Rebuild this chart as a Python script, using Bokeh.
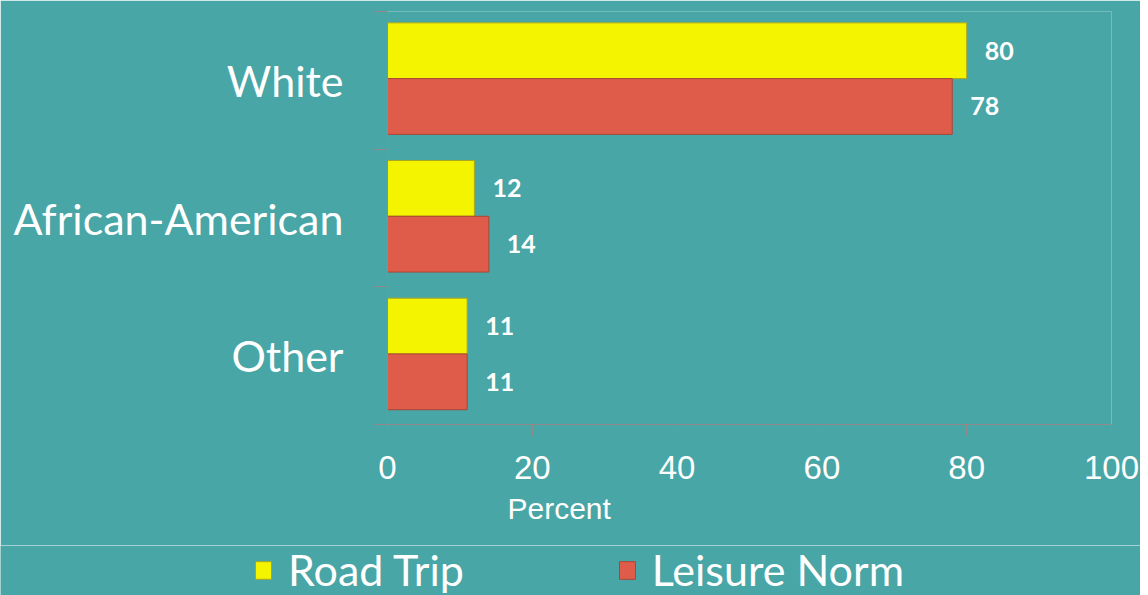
from bokeh.plotting import figure
from bokeh.models import (Range1d, FixedTicker, Legend, LegendItem, Title,
                          ColumnDataSource)
from bokeh.core.properties import value
from bokeh.embed import file_html
from bokeh.resources import INLINE

# ---- data ----
categories = ["Other", "African-American", "White"]   # bottom -> top
road_trip = [11, 12, 80]
leisure_norm = [11, 14, 78]
x_ticks = [0, 20, 40, 60, 80, 100]
series_names = ["Road Trip", "Leisure Norm"]

BG = "#48A6A6"
YELLOW = "#F4F400"
RED = "#E05C4A"
AXIS = "#928a8a"
YEDGE = "#a8a820"
REDGE = "#a94535"

pos = [i + 0.5 for i in range(len(categories))]

src_rt = ColumnDataSource(dict(y=[c + 0.215 for c in pos], v=road_trip,
                               t=[str(v) for v in road_trip]))
src_ln = ColumnDataSource(dict(y=[c - 0.19 for c in pos], v=leisure_norm,
                               t=[str(v) for v in leisure_norm]))

p = figure(frame_width=724, frame_height=413, output_backend="svg",
           toolbar_location=None,
           x_range=Range1d(0, 100), y_range=Range1d(0, 3),
           min_border_left=387, min_border_right=29, min_border_top=11,
           min_border_bottom=121)
p.background_fill_color = BG
p.border_fill_color = BG
p.outline_line_color = None
p.grid.visible = False

r1 = p.hbar(y="y", right="v", left=0, height=0.405, source=src_rt,
            fill_color=YELLOW, line_color=YEDGE, line_width=1)
r2 = p.hbar(y="y", right="v", left=0, height=0.405, source=src_ln,
            fill_color=RED, line_color=REDGE, line_width=1)

for src in (src_rt, src_ln):
    p.text(x="v", y="y", text="t", source=src, x_offset=18,
           text_align="left", text_baseline="middle",
           text_font=value("Lato"), text_font_style="bold",
           text_font_size="25px", text_color="white")

# y axis
ya = p.yaxis[0]
ya.ticker = FixedTicker(ticks=pos, minor_ticks=[0, 1, 2, 3])
ya.major_label_overrides = {pv: c for pv, c in zip(pos, categories)}
ya.major_tick_out = 0
ya.major_tick_in = 0
ya.minor_tick_out = 14
ya.minor_tick_in = 0
ya.minor_tick_line_color = AXIS
ya.axis_line_color = AXIS
ya.major_label_standoff = 30
ya.major_label_text_font = "Lato"
ya.major_label_text_font_size = "43px"
ya.major_label_text_color = "white"

# x axis
xa = p.xaxis[0]
xa.ticker = FixedTicker(ticks=x_ticks, minor_ticks=[])
xa.major_tick_out = 11
xa.major_tick_in = 0
xa.major_tick_line_color = AXIS
xa.axis_line_color = AXIS
xa.major_label_standoff = 20
xa.major_label_text_font = "Liberation Sans"
xa.major_label_text_font_size = "33px"
xa.major_label_text_color = "white"

p.add_layout(Title(text="Percent", align="left", offset=120, standoff=16,
                   text_font="Liberation Sans", text_font_size="30px",
                   text_font_style="normal", text_color="white"), "below")

# ---- legend strip (separate root so it can sit left of the plot frame) ----
leg = figure(width=1140, height=50, output_backend="svg",
             toolbar_location=None, x_axis_type=None, y_axis_type=None,
             x_range=Range1d(0, 100), y_range=Range1d(10, 11),
             min_border=0)
leg.background_fill_color = BG
leg.border_fill_color = BG
leg.outline_line_color = None
leg.grid.visible = False
lr1 = leg.hbar(y="y", right="v", left=0, height=0.405, source=src_rt,
               fill_color=YELLOW, line_color=YEDGE, line_width=1)
lr2 = leg.hbar(y="y", right="v", left=0, height=0.405, source=src_ln,
               fill_color=RED, line_color=REDGE, line_width=1)

legend = Legend(items=[LegendItem(label=series_names[0], renderers=[lr1]),
                       LegendItem(label=series_names[1], renderers=[lr2])],
                orientation="horizontal", location=(253, 0),
                background_fill_alpha=0, border_line_color=None,
                label_text_font="Lato", label_text_font_size="43px",
                label_text_color="white", glyph_width=20, glyph_height=22,
                label_standoff=15, spacing=153, padding=0, margin=0)
leg.add_layout(legend, "center")

open("out.html", "w").write(file_html([p, leg], INLINE))
